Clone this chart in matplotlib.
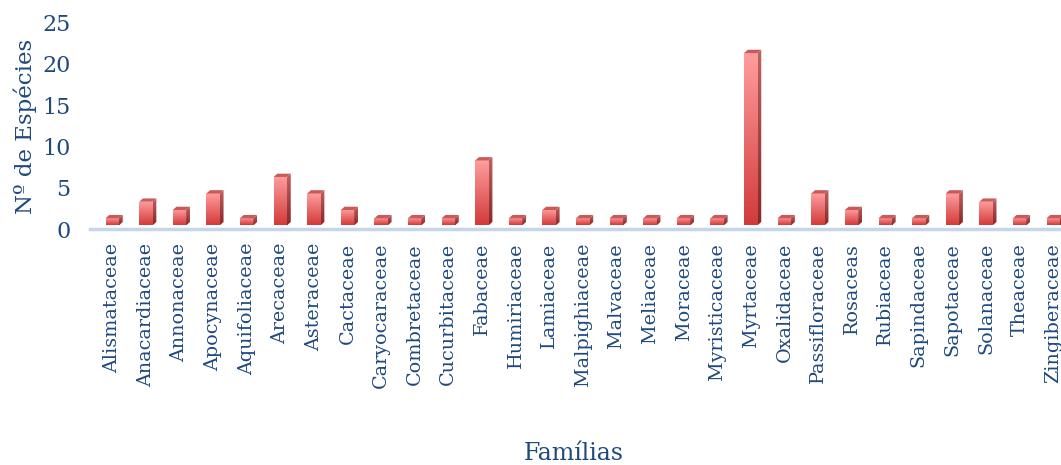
import matplotlib
matplotlib.use("Agg")
import matplotlib.pyplot as plt
import numpy as np
from matplotlib.colors import LinearSegmentedColormap
from matplotlib.patches import Polygon, Rectangle

familias = [
    "Alismataceae", "Anacardiaceae", "Annonaceae", "Apocynaceae", "Aquifoliaceae",
    "Arecaceae", "Asteraceae", "Cactaceae", "Caryocaraceae", "Combretaceae",
    "Cucurbitaceae", "Fabaceae", "Humiriaceae", "Lamiaceae", "Malpighiaceae",
    "Malvaceae", "Meliaceae", "Moraceae", "Myristicaceae", "Myrtaceae",
    "Oxalidaceae", "Passifloraceae", "Rosaceas", "Rubiaceae", "Sapindaceae",
    "Sapotaceae", "Solanaceae", "Theaceae", "Zingiberaceae",
]
especies = [1, 3, 2, 4, 1, 6, 4, 2, 1, 1, 1, 8, 1, 2, 1, 1, 1, 1, 1, 21,
            1, 4, 2, 1, 1, 4, 3, 1, 1]
y_ticks = [0, 5, 10, 15, 20, 25]

TEXT = "#1F497D"
FONT = "DejaVu Serif"
front_cmap = LinearSegmentedColormap.from_list("front", ["#D23A3A", "#FF9E9E"])
side_cmap = LinearSegmentedColormap.from_list("side", ["#8A2626", "#BF6262"])

# 3D look: front face, right side, top face
W = 0.40      # front width (category units)
DX = 0.11     # depth to the right
DY = 0.40     # depth upwards (value units)
BASE = 0.45   # bars float a little above the floor line

fig = plt.figure(figsize=(10.61, 4.65), dpi=100)
ax = fig.add_axes([90 / 1061, 1 - 229 / 465, 1 - 90 / 1061, 206.5 / 465])

grad = np.linspace(0, 1, 256).reshape(-1, 1)
for i, v in enumerate(especies):
    x0, x1 = i - W / 2, i + W / 2
    y0, y1 = BASE, v + 0.3
    # front face with vertical gradient
    rect = Rectangle((x0, y0), W, y1 - y0, fc="none", ec="none")
    ax.add_patch(rect)
    im = ax.imshow(grad, cmap=front_cmap, extent=(x0, x1, y0, y1),
                   origin="lower", aspect="auto", zorder=3)
    im.set_clip_path(rect)
    # side face
    side = Polygon([(x1, y0), (x1 + DX, y0 + DY), (x1 + DX, y1 + DY), (x1, y1)],
                   closed=True, fc="none", ec="none")
    ax.add_patch(side)
    ims = ax.imshow(grad, cmap=side_cmap, extent=(x1, x1 + DX, y0, y1 + DY),
                    origin="lower", aspect="auto", zorder=3)
    ims.set_clip_path(side)
    # top face
    ax.add_patch(Polygon([(x0, y1), (x1, y1), (x1 + DX, y1 + DY), (x0 + DX, y1 + DY)],
                         closed=True, fc="#C85A5A", ec="none", zorder=4))

ax.set_xlim(-0.664, 28.23)
ax.set_ylim(0, 25)

ax.axhline(0, color="#C5D5EA", lw=2.5, zorder=2, clip_on=False)
for s in ax.spines.values():
    s.set_visible(False)

ax.set_yticks(y_ticks)
ax.set_yticklabels([str(t) for t in y_ticks], fontsize=16, color=TEXT, family=FONT)
ax.set_xticks(range(len(familias)))
ax.set_xticklabels(familias, rotation=90, fontsize=13.8, color=TEXT, family=FONT,
                   va="top", ha="center")
ax.tick_params(axis="y", length=0, pad=14)
ax.tick_params(axis="x", length=0, pad=10)

fig.text(25 / 1061, 1 - 126 / 465, "Nº de Espécies", rotation=90, fontsize=16.5,
         color=TEXT, family=FONT, ha="center", va="center")
fig.text(574 / 1061, 1 - 453 / 465, "Famílias", fontsize=17, color=TEXT,
         family=FONT, ha="center", va="center")

fig.savefig("out.png", dpi=100, facecolor="white")
